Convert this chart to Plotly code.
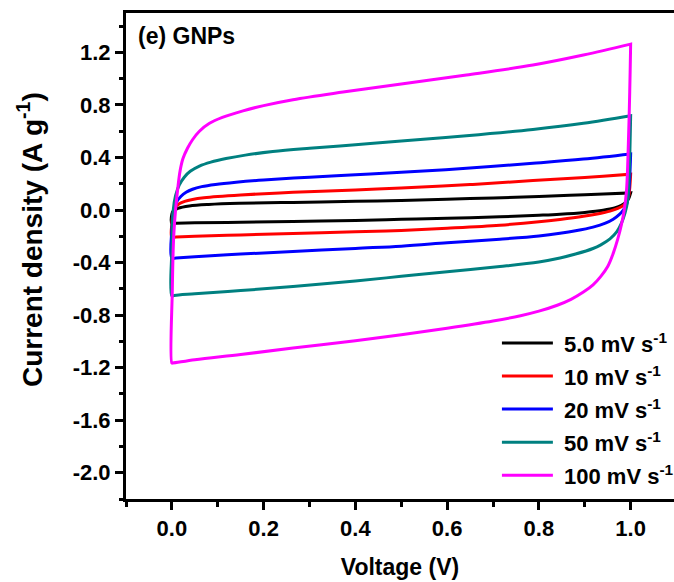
import plotly.graph_objects as go

# Cyclic voltammograms of GNPs at several scan rates.
# Each loop: anodic sweep 0 -> 1 V, then cathodic sweep 1 -> 0 V.
scan_labels = ["5.0 mV s<sup>-1</sup>", "10 mV s<sup>-1</sup>", "20 mV s<sup>-1</sup>",
               "50 mV s<sup>-1</sup>", "100 mV s<sup>-1</sup>"]
colors = ["#000000", "#FF0000", "#0000FF", "#008080", "#FF00FF"]

# 5.0 mV/s
v_fwd_5 = [0.0, 0.0, 0.003, 0.013, 0.038, 0.08, 0.147, 0.264, 0.4, 0.5, 0.65, 0.8, 0.9, 1.0]
i_fwd_5 = [-0.10, -0.03, -0.005, 0.012, 0.03, 0.042, 0.051, 0.058, 0.066, 0.073, 0.087, 0.103, 0.116, 0.13]
v_rev_5 = [1.0, 0.996, 0.99, 0.98, 0.965, 0.94, 0.9, 0.846, 0.8, 0.715, 0.6, 0.5, 0.4, 0.264, 0.15, 0.05, 0.009, 0.0]
i_rev_5 = [0.13, 0.09, 0.06, 0.035, 0.015, -0.002, -0.018, -0.032, -0.04, -0.052, -0.063, -0.071, -0.079,
           -0.088, -0.093, -0.097, -0.10, -0.10]

# 10 mV/s
v_fwd_10 = [0.0, 0.0, 0.003, 0.009, 0.016, 0.028, 0.045, 0.07, 0.1, 0.15, 0.264, 0.4, 0.5, 0.65, 0.787, 0.9, 1.0]
i_fwd_10 = [-0.207, -0.1, -0.02, 0.026, 0.048, 0.066, 0.08, 0.093, 0.103, 0.115, 0.135, 0.153, 0.168, 0.194,
            0.224, 0.248, 0.273]
v_rev_10 = [1.0, 0.996, 0.991, 0.984, 0.972, 0.955, 0.93, 0.897, 0.846, 0.8, 0.715, 0.6, 0.5, 0.4, 0.264,
            0.15, 0.05, 0.009, 0.0]
i_rev_10 = [0.273, 0.11, 0.058, 0.035, 0.012, -0.008, -0.028, -0.048, -0.072, -0.09, -0.115, -0.138, -0.155,
            -0.166, -0.178, -0.19, -0.2, -0.206, -0.207]

# 20 mV/s
v_fwd_20 = [0.0, 0.0, 0.004, 0.01, 0.02, 0.031, 0.045, 0.065, 0.095, 0.14, 0.2, 0.3, 0.4, 0.5, 0.642, 0.787,
            0.897, 1.0]
i_fwd_20 = [-0.367, -0.15, 0.0, 0.06, 0.105, 0.135, 0.158, 0.178, 0.195, 0.212, 0.229, 0.25, 0.268, 0.287,
            0.318, 0.356, 0.388, 0.427]
v_rev_20 = [1.0, 0.996, 0.991, 0.984, 0.975, 0.962, 0.945, 0.918, 0.88, 0.846, 0.8, 0.715, 0.6, 0.5, 0.4,
            0.264, 0.15, 0.05, 0.009, 0.0]
i_rev_20 = [0.427, 0.15, 0.04, 0.0, -0.035, -0.07, -0.1, -0.13, -0.158, -0.177, -0.197, -0.222, -0.25,
            -0.275, -0.292, -0.316, -0.335, -0.355, -0.365, -0.367]

# 50 mV/s
v_fwd_50 = [0.0, 0.0, 0.003, 0.008, 0.016, 0.027, 0.04, 0.06, 0.085, 0.118, 0.16, 0.22, 0.3, 0.4, 0.5,
            0.642, 0.787, 0.897, 1.0]
i_fwd_50 = [-0.653, -0.3, 0.0, 0.11, 0.19, 0.25, 0.295, 0.335, 0.365, 0.392, 0.418, 0.445, 0.47, 0.497,
            0.525, 0.565, 0.613, 0.66, 0.718]
v_rev_50 = [1.0, 0.997, 0.993, 0.988, 0.98, 0.97, 0.955, 0.935, 0.918, 0.88, 0.846, 0.8, 0.715, 0.6,
            0.5, 0.4, 0.264, 0.15, 0.05, 0.005, 0.0]
i_rev_50 = [0.718, 0.3, 0.06, -0.02, -0.1, -0.165, -0.22, -0.265, -0.293, -0.335, -0.365, -0.395, -0.43,
            -0.47, -0.505, -0.54, -0.583, -0.613, -0.638, -0.65, -0.653]

# 100 mV/s
v_fwd_100 = [0.0, 0.001, 0.004, 0.008, 0.013, 0.018, 0.024, 0.034, 0.045, 0.06, 0.082, 0.11, 0.155, 0.2,
             0.264, 0.373, 0.5, 0.642, 0.787, 0.897, 1.0]
i_fwd_100 = [-1.165, -0.6, -0.2, 0.0, 0.17, 0.3, 0.39, 0.47, 0.535, 0.6, 0.66, 0.705, 0.755, 0.795,
             0.84, 0.898, 0.96, 1.028, 1.104, 1.18, 1.263]
v_rev_100 = [1.0, 0.998, 0.995, 0.991, 0.986, 0.98, 0.972, 0.962, 0.95, 0.935, 0.918, 0.897, 0.87, 0.84,
             0.8, 0.76, 0.7, 0.6, 0.5, 0.4, 0.264, 0.15, 0.05, 0.002, 0.0]
i_rev_100 = [1.263, 0.9, 0.5, 0.15, 0.0, -0.11, -0.22, -0.33, -0.43, -0.505, -0.57, -0.625, -0.68, -0.725,
             -0.77, -0.805, -0.845, -0.9, -0.95, -0.995, -1.051, -1.1, -1.14, -1.165, -1.165]

loops = [
    (v_fwd_5, i_fwd_5, v_rev_5, i_rev_5),
    (v_fwd_10, i_fwd_10, v_rev_10, i_rev_10),
    (v_fwd_20, i_fwd_20, v_rev_20, i_rev_20),
    (v_fwd_50, i_fwd_50, v_rev_50, i_rev_50),
    (v_fwd_100, i_fwd_100, v_rev_100, i_rev_100),
]

y_tick_vals = [1.2, 0.8, 0.4, 0.0, -0.4, -0.8, -1.2, -1.6, -2.0]
y_tick_text = ["1.2", "0.8", "0.4", "0.0", "-0.4", "-0.8", "-1.2", "-1.6", "-2.0"]
x_tick_vals = [0.0, 0.2, 0.4, 0.6, 0.8, 1.0]
x_tick_text = ["0.0", "0.2", "0.4", "0.6", "0.8", "1.0"]

FONT = "Liberation Sans, Arial, sans-serif"

fig = go.Figure()
for (vf, jf, vr, jr), name, col in zip(loops, scan_labels, colors):
    fig.add_trace(go.Scatter(
        x=vf + vr, y=jf + jr, mode="lines", name=name, showlegend=False,
        line=dict(color=col, width=3, shape="spline", smoothing=1.0),
    ))

# Legend drawn as line samples + labels in the lower right corner
leg_y = [0.321, 0.253, 0.185, 0.117, 0.049]
for name, col, yy in zip(scan_labels, colors, leg_y):
    fig.add_shape(type="line", xref="paper", yref="paper", x0=0.686, x1=0.779, y0=yy, y1=yy,
                  line=dict(color=col, width=3))
    fig.add_annotation(xref="paper", yref="paper", x=0.7956, y=yy, text=name, showarrow=False,
                       xanchor="left", yanchor="middle",
                       font=dict(family=FONT, size=22, color="black", weight="bold"))

fig.add_annotation(xref="paper", yref="paper", x=0.018, y=0.9527, text="(e) GNPs", showarrow=False,
                   xanchor="left", yanchor="middle",
                   font=dict(family=FONT, size=23, color="black", weight="bold"))

fig.add_annotation(xref="paper", yref="paper", x=-0.175, y=0.533, text="Current density (A g<sup>-1</sup>)",
                   textangle=-90, showarrow=False, xanchor="center", yanchor="middle",
                   font=dict(family=FONT, size=28, color="black", weight="bold"))

fig.update_layout(
    width=674, height=582,
    margin=dict(l=126, r=0, t=13, b=83),
    paper_bgcolor="white", plot_bgcolor="white",
    font=dict(family=FONT, size=22, color="black", weight="bold"),
    xaxis=dict(
        range=[-0.1, 1.0945], tickmode="array", tickvals=x_tick_vals, ticktext=x_tick_text,
        ticks="outside", ticklen=8, tickwidth=2.5, tickcolor="black",
        showline=True, linewidth=3, linecolor="black", mirror=True,
        showgrid=False, zeroline=False,
        minor=dict(ticks="outside", ticklen=4.5, tickwidth=2.5, tickcolor="black", dtick=0.1, tick0=0.0,
                   showgrid=False),
        title=dict(text="Voltage (V)", font=dict(family=FONT, size=23, weight="bold"), standoff=19),
        tickfont=dict(family=FONT, size=22, weight="bold"),
    ),
    yaxis=dict(
        range=[-2.2, 1.5], tickmode="array", tickvals=y_tick_vals, ticktext=y_tick_text,
        ticks="outside", ticklen=8, tickwidth=2.5, tickcolor="black",
        showline=True, linewidth=3, linecolor="black", mirror=False,
        showgrid=False, zeroline=False,
        minor=dict(ticks="outside", ticklen=4.5, tickwidth=2.5, tickcolor="black", dtick=0.2, tick0=0.0,
                   showgrid=False),
        tickfont=dict(family=FONT, size=22, weight="bold"),
    ),
)

fig.write_html("out.html")
